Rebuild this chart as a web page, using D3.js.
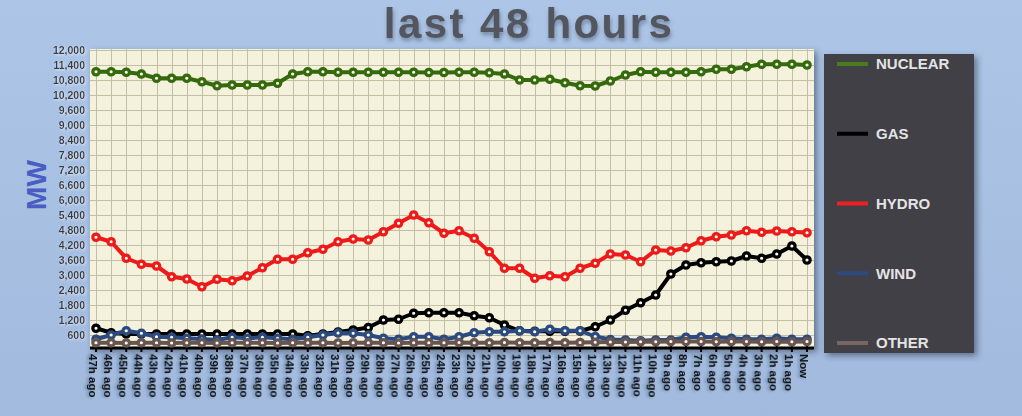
<!DOCTYPE html>
<html>
<head>
<meta charset="utf-8">
<script src="https://cdn.jsdelivr.net/npm/d3@7"></script>
<style>
  body { margin: 0; background: #a9c1e2; }
  svg { display: block; font-family: "Liberation Sans", Arial, sans-serif; }
  .ytick { font-size: 10.5px; font-weight: bold; fill: #343a44; }
  .xtick { font-size: 11.5px; font-weight: bold; fill: #151515; }
  .legtxt { font-size: 15px; font-weight: bold; fill: #e4e4e4; }
</style>
</head>
<body>
<svg></svg>
<script>
var width = 1022;
var height = 416;

// Data (MW), 47h ago -> Now
var hours = ["47h ago","46h ago","45h ago","44h ago","43h ago","42h ago","41h ago","40h ago",
  "39h ago","38h ago","37h ago","36h ago","35h ago","34h ago","33h ago","32h ago","31h ago",
  "30h ago","29h ago","28h ago","27h ago","26h ago","25h ago","24h ago","23h ago","22h ago",
  "21h ago","20h ago","19h ago","18h ago","17h ago","16h ago","15h ago","14h ago","13h ago",
  "12h ago","11h ago","10h ago","9h ago","8h ago","7h ago","6h ago","5h ago","4h ago",
  "3h ago","2h ago","1h ago","Now"];

var nuclear = [11130,11130,11110,11040,10870,10870,10870,10730,10570,10600,10600,10600,10670,
  11040,11130,11130,11110,11110,11110,11110,11110,11110,11100,
  11100,11110,11110,11090,11040,10800,10800,10830,10690,10570,10560,10760,11000,11130,
  11110,11110,11110,11130,11230,11230,11330,11430,11430,11430,11400];

var gas = [870,690,640,640,640,640,640,640,640,640,640,640,640,640,570,640,720,800,900,
  1200,1230,1470,1490,
  1490,1490,1370,1290,1000,770,750,750,750,760,930,1200,1590,1890,2200,3040,3400,
  3490,3530,3560,3760,3670,3840,4160,3600];

var hydro = [4510,4330,3670,3430,3360,2930,2840,2530,2830,2770,2960,3290,3630,3630,3890,
  4030,4330,4440,4400,4730,5070,5400,5090,
  4670,4770,4470,3930,3270,3270,2870,2970,2930,3270,3470,3840,3800,3530,4000,3960,
  4090,4370,4530,4600,4770,4710,4760,4730,4690];

var wind = [430,600,770,670,530,510,470,440,400,510,470,510,470,430,510,600,680,670,600,
  470,430,530,530,
  430,530,690,730,730,770,730,830,770,770,540,420,400,370,400,400,510,530,510,470,
  430,430,470,430,430];

var other = [290,290,280,290,290,280,290,290,280,290,290,290,280,290,290,290,280,290,290,
  290,280,290,290,290,300,290,290,300,290,290,300,290,300,310,320,320,330,330,340,
  340,340,330,340,340,330,340,330,340];

var seriesNames = ["NUCLEAR","GAS","HYDRO","WIND","OTHER"];
var seriesValues = [nuclear, gas, hydro, wind, other];
var seriesColors = ["#346a0c","#000000","#ee1a1a","#2b4a7f","#685450"];
var legendColors = ["#4a7b1c","#000000","#ee2020","#2d4a80","#7a6660"];

var yTicks = d3.range(600, 12001, 600);

var svg = d3.select("svg")
    .attr("width", width)
    .attr("height", height);

var defs = svg.append("defs");

var bg = defs.append("linearGradient").attr("id", "bg").attr("x1", 0).attr("y1", 0).attr("x2", 0).attr("y2", 1);
bg.append("stop").attr("offset", "0%").attr("stop-color", "#adc6e7");
bg.append("stop").attr("offset", "100%").attr("stop-color", "#a2badd");

var shadow = defs.append("filter").attr("id", "shadow").attr("x", "-10%").attr("y", "-10%").attr("width", "130%").attr("height", "130%");
shadow.append("feDropShadow").attr("dx", 3).attr("dy", 3).attr("stdDeviation", 3)
    .attr("flood-color", "#2a3448").attr("flood-opacity", 0.55);

var tshadow = defs.append("filter").attr("id", "tshadow").attr("x", "-10%").attr("y", "-20%").attr("width", "130%").attr("height", "160%");
tshadow.append("feDropShadow").attr("dx", 1).attr("dy", 3).attr("stdDeviation", 2)
    .attr("flood-color", "#3a4660").attr("flood-opacity", 0.5);

var glow = defs.append("filter").attr("id", "glow").attr("x", "-20%").attr("y", "-40%").attr("width", "140%").attr("height", "180%");
glow.append("feDropShadow").attr("dx", 1).attr("dy", 1).attr("stdDeviation", 1)
    .attr("flood-color", "#ffffff").attr("flood-opacity", 0.6);

var xshadow = defs.append("filter").attr("id", "xshadow").attr("x", "-20%").attr("y", "-40%").attr("width", "160%").attr("height", "180%");
xshadow.append("feDropShadow").attr("dx", 0).attr("dy", 2).attr("stdDeviation", 1.5)
    .attr("flood-color", "#1c2a48").attr("flood-opacity", 0.45);

svg.append("rect").attr("width", width).attr("height", height).attr("fill", "url(#bg)");

// Scales

var x = d3.scalePoint()
    .domain(hours)
    .range([96, 807]);

var y = d3.scaleLinear()
    .domain([0, 12000])
    .range([350, 50]);

var plotL = 90, plotR = 814, plotT = 49, plotB = 349;

// Title

svg.append("text").text("last 48 hours")
    .attr("x", 529).attr("y", 38)
    .attr("text-anchor", "middle")
    .style("font-size", "42px").style("font-weight", "bold")
    .style("letter-spacing", "2.4px")
    .attr("fill", "#52565e")
    .style("filter", "url(#tshadow)");

svg.append("text").text("MW")
    .attr("transform", "translate(46,185) rotate(-90)")
    .attr("text-anchor", "middle")
    .style("font-size", "28px").style("font-weight", "bold")
    .attr("fill", "#4b5cc2");

// Plot area

svg.append("rect")
    .attr("x", plotL).attr("y", plotT)
    .attr("width", plotR - plotL).attr("height", plotB - plotT)
    .attr("fill", "#f4f2dc")
    .style("filter", "url(#shadow)");

var grid = svg.append("g").attr("id", "grid");

grid.selectAll(".hgrid")
    .data(yTicks)
    .enter().append("line")
    .attr("x1", plotL).attr("x2", plotR)
    .attr("y1", function(d) { return Math.round(y(d)) + 0.5; })
    .attr("y2", function(d) { return Math.round(y(d)) + 0.5; })
    .attr("stroke", "#c3bfa4").attr("stroke-width", 1);

grid.selectAll(".vgrid")
    .data(hours)
    .enter().append("line")
    .attr("x1", function(d) { return Math.round(x(d)) + 0.5; })
    .attr("x2", function(d) { return Math.round(x(d)) + 0.5; })
    .attr("y1", plotT).attr("y2", plotB)
    .attr("stroke", "#c3bfa4").attr("stroke-width", 1);

// Y axis labels

svg.append("g").selectAll("text")
    .data(yTicks)
    .enter().append("text")
    .attr("class", "ytick")
    .attr("x", 85)
    .attr("y", function(d) { return y(d); })
    .attr("dy", "0.35em")
    .attr("text-anchor", "end")
    .style("filter", "url(#glow)")
    .text(d3.format(","));

// X axis

var xaxis = svg.append("g").attr("id", "xaxis");

xaxis.append("line")
    .attr("x1", plotL).attr("x2", plotR)
    .attr("y1", 348).attr("y2", 348)
    .attr("stroke", "#000").attr("stroke-width", 3);

xaxis.selectAll(".tick")
    .data(hours)
    .enter().append("line")
    .attr("x1", function(d) { return x(d); })
    .attr("x2", function(d) { return x(d); })
    .attr("y1", 346).attr("y2", 352)
    .attr("stroke", "#000").attr("stroke-width", 2);

xaxis.selectAll("text")
    .data(hours)
    .enter().append("text")
    .attr("class", "xtick")
    .attr("transform", function(d) { return "translate(" + (x(d) - 3) + ",354) rotate(90)"; })
    .attr("dy", "0.35em")
    .style("filter", "url(#xshadow)")
    .text(function(d) { return d; });

// Series

var line = d3.line()
    .x(function(d, i) { return x(hours[i]); })
    .y(function(d) { return y(d); });

var series = svg.append("g").attr("id", "series");

seriesValues.forEach(function(vals, k) {
  var g = series.append("g");
  g.append("path")
      .datum(vals)
      .attr("d", line)
      .attr("fill", "none")
      .attr("stroke", seriesColors[k])
      .attr("stroke-width", 4)
      .attr("stroke-linejoin", "round");
  g.selectAll("circle")
      .data(vals)
      .enter().append("circle")
      .attr("cx", function(d, i) { return x(hours[i]); })
      .attr("cy", function(d) { return y(d); })
      .attr("r", 3.2)
      .attr("fill", "#fbfbf2")
      .attr("stroke", seriesColors[k])
      .attr("stroke-width", 3.2);
});

// Legend

var legend = svg.append("g").attr("id", "legend");

legend.append("rect")
    .attr("x", 824).attr("y", 54)
    .attr("width", 150).attr("height", 299)
    .attr("fill", "#424146")
    .style("filter", "url(#shadow)");

var legY = d3.scalePoint().domain(seriesNames).range([64, 343]);

legend.selectAll("line")
    .data(seriesNames)
    .enter().append("line")
    .attr("x1", 837).attr("x2", 868)
    .attr("y1", function(d) { return legY(d); })
    .attr("y2", function(d) { return legY(d); })
    .attr("stroke", function(d, i) { return legendColors[i]; })
    .attr("stroke-width", 4);

legend.selectAll("text")
    .data(seriesNames)
    .enter().append("text")
    .attr("class", "legtxt")
    .attr("x", 876)
    .attr("y", function(d) { return legY(d); })
    .attr("dy", "0.36em")
    .text(function(d) { return d; });
</script>
</body>
</html>
